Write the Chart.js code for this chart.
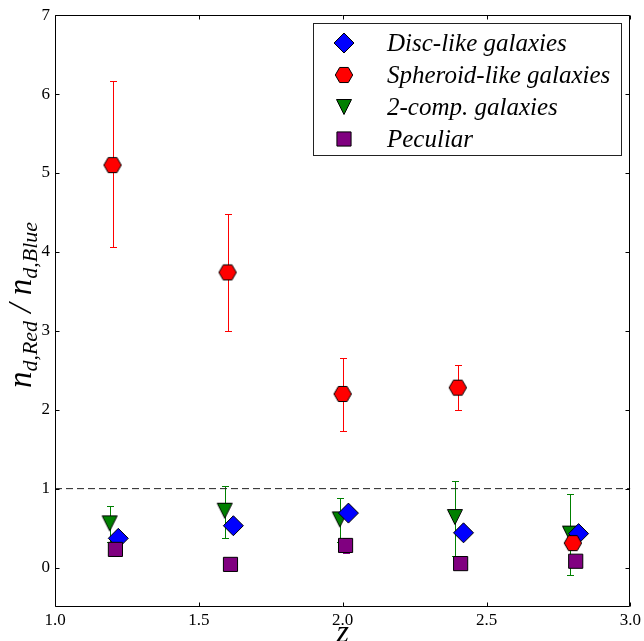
<!DOCTYPE html>
<html>
<head>
<meta charset="utf-8">
<script src="https://cdn.jsdelivr.net/npm/chart.js@4.4.1/dist/chart.umd.min.js"></script>
<style>
  html, body { margin: 0; padding: 0; background: #fff; }
  #wrap { width: 644px; height: 641px; }
</style>
</head>
<body>
<div id="wrap"><canvas id="chart" width="644" height="641"></canvas></div>
<script>
/* ===============================
   DATA
================================= */
const discX = [1.22, 1.62, 2.02, 2.42, 2.82];
const discY = [0.37, 0.53, 0.69, 0.44, 0.43];

const sphX  = [1.20, 1.60, 2.00, 2.40, 2.80];
const sphY  = [5.10, 3.74, 2.20, 2.28, 0.31];
const sphLo = [4.06, 3.00, 1.73, 2.00, null];
const sphHi = [6.16, 4.48, 2.66, 2.57, null];

const compX  = [1.19, 1.59, 1.99, 2.39, 2.79];
const compY  = [0.56, 0.72, 0.61, 0.64, 0.43];
const compLo = [0.32, 0.38, 0.32, 0.14, -0.10];
const compHi = [0.78, 1.03, 0.88, 1.10, 0.93];

const pecX  = [1.21, 1.61, 2.01, 2.41, 2.81];
const pecY  = [0.23, 0.04, 0.28, 0.05, 0.08];
const pecLo = [0.14, null, 0.18, null, null];
const pecHi = [0.32, null, 0.38, null, null];

const xTicks = [1.0, 1.5, 2.0, 2.5, 3.0];
const yTicks = [0, 1, 2, 3, 4, 5, 6, 7];
const refY = 1;

const SERIF = '"Liberation Serif"';

/* ===============================
   MARKER IMAGES
================================= */
function makeMarker(w, h, path, fill) {
    const c = document.createElement('canvas');
    c.width = w; c.height = h;
    const g = c.getContext('2d');
    g.beginPath();
    path(g, w / 2, h / 2);
    g.closePath();
    g.fillStyle = fill;
    g.fill();
    g.lineWidth = 1;
    g.strokeStyle = '#000';
    g.stroke();
    return c;
}

const hexagon = makeMarker(20, 18, (g, cx, cy) => {
    const r = 8.7;
    for (let i = 0; i < 6; i++) {
        const a = i * Math.PI / 3;
        const px = cx + r * Math.cos(a), py = cy + r * Math.sin(a);
        i ? g.lineTo(px, py) : g.moveTo(px, py);
    }
}, '#ff0000');

const triDown = makeMarker(18, 18, (g, cx, cy) => {
    const r = 7.5;
    g.moveTo(cx - r, cy - r);
    g.lineTo(cx + r, cy - r);
    g.lineTo(cx, cy + r);
}, '#008000');

const toPts = (xs, ys) => xs.map((x, i) => ({ x, y: ys[i] }));

/* ===============================
   PLUGINS
================================= */
const errSets = [
    { xs: sphX,  lo: sphLo,  hi: sphHi,  color: '#ff0000' },
    { xs: compX, lo: compLo, hi: compHi, color: '#008000' },
    { xs: pecX,  lo: pecLo,  hi: pecHi,  color: '#800080' }
];

const errorBars = {
    id: 'errorBars',
    beforeDatasetsDraw(chart) {
        const { ctx, scales: { x, y } } = chart;
        const cap = 3.5;
        errSets.forEach(s => {
            ctx.save();
            ctx.strokeStyle = s.color;
            ctx.lineWidth = 1;
            ctx.beginPath();
            s.xs.forEach((xv, i) => {
                if (s.lo[i] == null) return;
                const px = Math.round(x.getPixelForValue(xv)) + 0.5;
                const pLo = Math.round(y.getPixelForValue(s.lo[i])) + 0.5;
                const pHi = Math.round(y.getPixelForValue(s.hi[i])) + 0.5;
                ctx.moveTo(px, pLo); ctx.lineTo(px, pHi);
                ctx.moveTo(px - cap, pLo); ctx.lineTo(px + cap, pLo);
                ctx.moveTo(px - cap, pHi); ctx.lineTo(px + cap, pHi);
            });
            ctx.stroke();
            ctx.restore();
        });
    }
};

const frame = {
    id: 'frame',
    afterDraw(chart) {
        const { ctx, chartArea: a, scales: { x, y } } = chart;
        const L = Math.round(a.left) + 0.5, R = Math.round(a.right) - 0.5;
        const T = Math.round(a.top) + 0.5, B = Math.round(a.bottom) - 0.5;
        const tl = 4;
        ctx.save();
        ctx.strokeStyle = '#000';
        ctx.lineWidth = 1;
        ctx.beginPath();
        ctx.rect(L, T, R - L, B - T);
        xTicks.forEach(v => {
            const px = Math.round(x.getPixelForValue(v)) + 0.5;
            ctx.moveTo(px, B); ctx.lineTo(px, B - tl);
            ctx.moveTo(px, T); ctx.lineTo(px, T + tl);
        });
        yTicks.forEach(v => {
            const py = Math.round(y.getPixelForValue(v)) + 0.5;
            ctx.moveTo(L, py); ctx.lineTo(L + tl, py);
            ctx.moveTo(R, py); ctx.lineTo(R - tl, py);
        });
        ctx.stroke();
        ctx.restore();
    }
};

// legend drawn inside the axes, upper right
const legendBox = {
    id: 'legendBox',
    afterDraw(chart) {
        const { ctx } = chart;
        const box = { x: 313.5, y: 23.5, w: 308, h: 132 };
        const rowY = [43, 75, 107, 139];
        const markX = 344, textX = 387;
        ctx.save();
        ctx.fillStyle = '#fff';
        ctx.fillRect(box.x, box.y, box.w, box.h);
        ctx.strokeStyle = '#222';
        ctx.lineWidth = 1;
        ctx.strokeRect(box.x, box.y, box.w, box.h);

        [0, 1, 2, 3].forEach((di, row) => {
            const ds = chart.data.datasets[di];
            ctx.fillStyle = ds.pointBackgroundColor;
            ctx.strokeStyle = '#000';
            ctx.lineWidth = 1;
            Chart.helpers.drawPoint(ctx, {
                pointStyle: ds.pointStyle,
                radius: ds.pointRadius,
                rotation: 0,
                borderWidth: 1
            }, markX, rowY[row]);
            ctx.fillStyle = '#000';
            ctx.font = 'italic 25px ' + SERIF;
            ctx.textBaseline = 'middle';
            ctx.textAlign = 'left';
            ctx.fillText(ds.label, textX, rowY[row] + 1);
        });
        ctx.restore();
    }
};

// axis titles with subscripts
const axisTitles = {
    id: 'axisTitles',
    afterDraw(chart) {
        const { ctx, scales: { x } } = chart;
        ctx.save();
        ctx.fillStyle = '#000';
        ctx.textBaseline = 'alphabetic';
        ctx.textAlign = 'left';

        const big = 'italic 33px ' + SERIF, small = 'italic 22px ' + SERIF;
        const parts = [
            ['n', big, 0], ['d,Red', small, 6],
            [' / ', big, 0],
            ['n', big, 0], ['d,Blue', small, 6]
        ];
        let total = 0;
        parts.forEach(p => { ctx.font = p[1]; total += ctx.measureText(p[0]).width; });
        ctx.translate(31, 305);
        ctx.rotate(-Math.PI / 2);
        let cx = -total / 2;
        parts.forEach(p => {
            ctx.font = p[1];
            ctx.fillText(p[0], cx, p[2]);
            cx += ctx.measureText(p[0]).width;
        });
        ctx.restore();

        ctx.save();
        ctx.fillStyle = '#000';
        ctx.font = 'italic 32px ' + SERIF;
        ctx.textAlign = 'center';
        ctx.textBaseline = 'alphabetic';
        ctx.fillText('z', x.getPixelForValue(2.0), 642);
        ctx.restore();
    }
};

/* ===============================
   CHART
================================= */
const chart = new Chart(document.getElementById('chart').getContext('2d'), {
    type: 'scatter',
    data: {
        datasets: [
            {
                label: 'Disc-like galaxies',
                data: toPts(discX, discY),
                pointStyle: 'rectRot',
                pointRadius: 10,
                pointBackgroundColor: '#0000ff',
                pointBorderColor: '#000',
                pointBorderWidth: 1,
                order: 2
            },
            {
                label: 'Spheroid-like galaxies',
                data: toPts(sphX, sphY),
                pointStyle: hexagon,
                pointRadius: 9,
                pointBackgroundColor: '#ff0000',
                pointBorderColor: '#000',
                pointBorderWidth: 1,
                order: 1
            },
            {
                label: '2-comp. galaxies',
                data: toPts(compX, compY),
                pointStyle: triDown,
                pointRadius: 9,
                pointBackgroundColor: '#008000',
                pointBorderColor: '#000',
                pointBorderWidth: 1,
                order: 3
            },
            {
                label: 'Peculiar',
                data: toPts(pecX, pecY),
                pointStyle: 'rect',
                pointRadius: 10,
                pointBackgroundColor: '#800080',
                pointBorderColor: '#000',
                pointBorderWidth: 1,
                order: 0
            },
            {
                label: 'ref',
                data: [{ x: xTicks[0], y: refY }, { x: xTicks[xTicks.length - 1], y: refY }],
                showLine: true,
                borderColor: '#222',
                borderWidth: 1,
                borderDash: [7, 4],
                pointRadius: 0,
                order: 10
            }
        ]
    },
    options: {
        responsive: false,
        animation: false,
        devicePixelRatio: 1,
        events: [],
        layout: { padding: { top: 12, right: 12, left: 0, bottom: 0 } },
        plugins: {
            legend: { display: false },
            tooltip: { enabled: false }
        },
        scales: {
            x: {
                type: 'linear',
                min: 1.0,
                max: 3.0,
                grid: { display: false, drawTicks: false },
                border: { display: false },
                afterBuildTicks: s => { s.ticks = xTicks.map(v => ({ value: v })); },
                afterFit: s => { s.height = 34; },
                ticks: {
                    padding: 3,
                    color: '#000',
                    maxRotation: 0,
                    font: { family: SERIF, size: 17 },
                    callback: v => v.toFixed(1)
                }
            },
            y: {
                type: 'linear',
                min: -0.5,
                max: 7,
                grid: { display: false, drawTicks: false },
                border: { display: false },
                afterBuildTicks: s => { s.ticks = yTicks.map(v => ({ value: v })); },
                afterFit: s => { s.width = 55; },
                ticks: {
                    padding: 5,
                    color: '#000',
                    font: { family: SERIF, size: 17 },
                    callback: v => String(v)
                }
            }
        }
    },
    plugins: [errorBars, frame, legendBox, axisTitles]
});
</script>
</body>
</html>
